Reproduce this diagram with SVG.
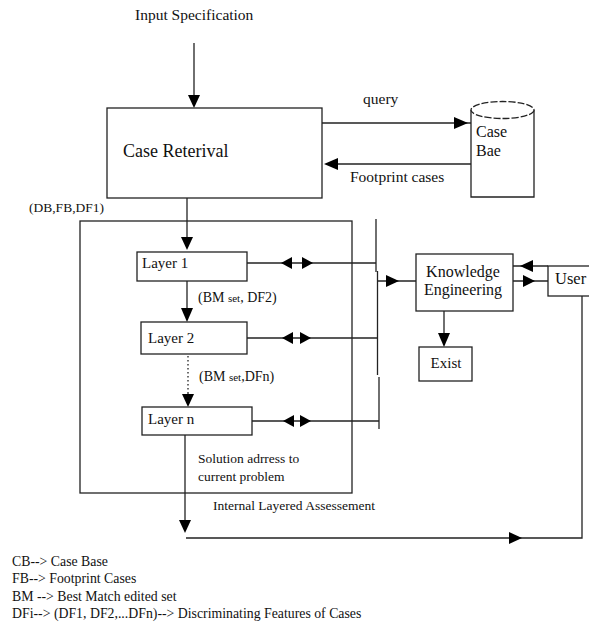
<svg xmlns="http://www.w3.org/2000/svg" width="589" height="622" viewBox="0 0 589 622" font-family="'Liberation Serif', 'Times New Roman', Times, 'DejaVu Serif', serif">
<style>
text{font-family:'Liberation Serif','Times New Roman',Times,'DejaVu Serif',serif;fill:#111}
.box{fill:#fff;stroke:#222;stroke-width:1.3}
.ln{fill:none;stroke:#222;stroke-width:1.3}
.ah{fill:#000}
</style>
<rect width="589" height="622" fill="#fff"/>
<g id="connectors">
<line class="ln" x1="194" y1="43" x2="194" y2="100"/>
<polygon class="ah" points="188,95 200,95 194,108"/>
<line class="ln" x1="322" y1="123" x2="472" y2="123"/>
<polygon class="ah" points="454,117 454,129 468,123"/>
<line class="ln" x1="472" y1="164" x2="330" y2="164"/>
<polygon class="ah" points="338,158 338,170 324,164"/>
<line class="ln" x1="187" y1="198" x2="187" y2="240"/>
<polygon class="ah" points="181,237 193,237 187,250"/>
<line class="ln" x1="187" y1="281" x2="187" y2="312"/>
<polygon class="ah" points="181,308 193,308 187,322"/>
<line class="ln" x1="188" y1="356" x2="188" y2="392" stroke-dasharray="1.5,2.5"/>
<line class="ln" x1="188" y1="392" x2="188" y2="398"/>
<polygon class="ah" points="182,394 194,394 188,407"/>
<line class="ln" x1="185" y1="435" x2="185" y2="525"/>
<polygon class="ah" points="179,520 191,520 185,533"/>
<path class="ln" d="M186,538 H582 V296"/>
<polygon class="ah" points="509,532 509,544 522,538"/>
<line class="ln" x1="247" y1="263" x2="376" y2="263"/>
<polygon class="ah" points="281,263 292,257 292,269"/>
<polygon class="ah" points="302,257 302,269 313,263"/>
<line class="ln" x1="247" y1="338" x2="378" y2="338"/>
<polygon class="ah" points="282,338 293,332 293,344"/>
<polygon class="ah" points="300,332 300,344 311,338"/>
<line class="ln" x1="252" y1="421" x2="379" y2="421"/>
<polygon class="ah" points="283,421 294,415 294,427"/>
<polygon class="ah" points="300,415 300,427 311,421"/>
<line class="ln" x1="376" y1="219" x2="376" y2="272"/>
<line class="ln" x1="377.5" y1="271" x2="377.5" y2="375"/>
<line class="ln" x1="379" y1="377" x2="379" y2="429"/>
<line class="ln" x1="377" y1="281" x2="416" y2="281"/>
<polygon class="ah" points="386,275 386,287 399,281"/>
<line class="ln" x1="513" y1="266" x2="548" y2="266"/>
<polygon class="ah" points="520,266 533,260 533,272"/>
<line class="ln" x1="513" y1="281" x2="548" y2="281"/>
<polygon class="ah" points="523,275 523,287 535,281"/>
<line class="ln" x1="444" y1="311" x2="444" y2="335"/>
<polygon class="ah" points="438,333 450,333 444,347"/>
</g>
<g id="input-spec"><text x="135" y="20" font-size="15.5">Input Specification</text></g>
<g id="case-retrieval">
<rect class="box" x="107" y="108" width="215" height="90"/>
<text x="123" y="157" font-size="18">Case Reterival</text>
</g>
<g id="query-label"><text x="363" y="104" font-size="15.5">query</text></g>
<g id="footprint-label"><text x="350" y="182" font-size="15.5">Footprint cases</text></g>
<g id="case-base">
<path class="box" d="M471,110 V197 H534 V110"/>
<ellipse cx="502.5" cy="110" rx="31.5" ry="8.5" fill="#fff" stroke="#222" stroke-width="1.3" stroke-dasharray="7,2"/>
<text x="476" y="137" font-size="16">Case</text>
<text x="476" y="156" font-size="16">Bae</text>
</g>
<g id="db-label"><text x="29" y="212" font-size="13.5">(DB,FB,DF1)</text></g>
<g id="internal-layered">
<rect x="80" y="221" width="272" height="272" fill="none" stroke="#222" stroke-width="1.3"/>
<text x="213" y="510" font-size="13.5">Internal Layered Assessement</text>
</g>
<g id="layer1">
<rect class="box" x="137" y="252" width="110" height="29"/>
<text x="142" y="268" font-size="15">Layer 1</text>
</g>
<g id="bm-df2"><text x="198" y="302" font-size="14">(BM <tspan font-size="11">set</tspan>, DF2)</text></g>
<g id="layer2">
<rect class="box" x="141" y="322" width="106" height="32"/>
<text x="148" y="343" font-size="15">Layer 2</text>
</g>
<g id="bm-dfn"><text x="199" y="381" font-size="14">(BM <tspan font-size="11">set</tspan>,DFn)</text></g>
<g id="layern">
<rect class="box" x="142" y="407" width="110" height="28"/>
<text x="148" y="424" font-size="15">Layer n</text>
</g>
<g id="solution-label">
<text x="198" y="463" font-size="13.5">Solution adrress to</text>
<text x="198" y="481" font-size="13.5">current problem</text>
</g>
<g id="knowledge-engineering">
<rect class="box" x="416" y="254" width="97" height="57"/>
<text x="463" y="277" font-size="16" text-anchor="middle">Knowledge</text>
<text x="463" y="295" font-size="16" text-anchor="middle">Engineering</text>
</g>
<g id="exist">
<rect class="box" x="419" y="347" width="53" height="34"/>
<text x="446" y="368" font-size="15" text-anchor="middle">Exist</text>
</g>
<g id="user">
<rect class="box" x="548" y="266" width="50" height="30"/>
<text x="555" y="284" font-size="16.5">User</text>
</g>
<g id="legend">
<text x="12" y="566" font-size="13.8">CB--&gt; Case Base</text>
<text x="12" y="583" font-size="13.8">FB--&gt; Footprint Cases</text>
<text x="12" y="601" font-size="13.8">BM --&gt; Best Match edited set</text>
<text x="12" y="618" font-size="13.8">DFi--&gt; (DF1, DF2,...DFn)--&gt; Discriminating Features of Cases</text>
</g>
</svg>
